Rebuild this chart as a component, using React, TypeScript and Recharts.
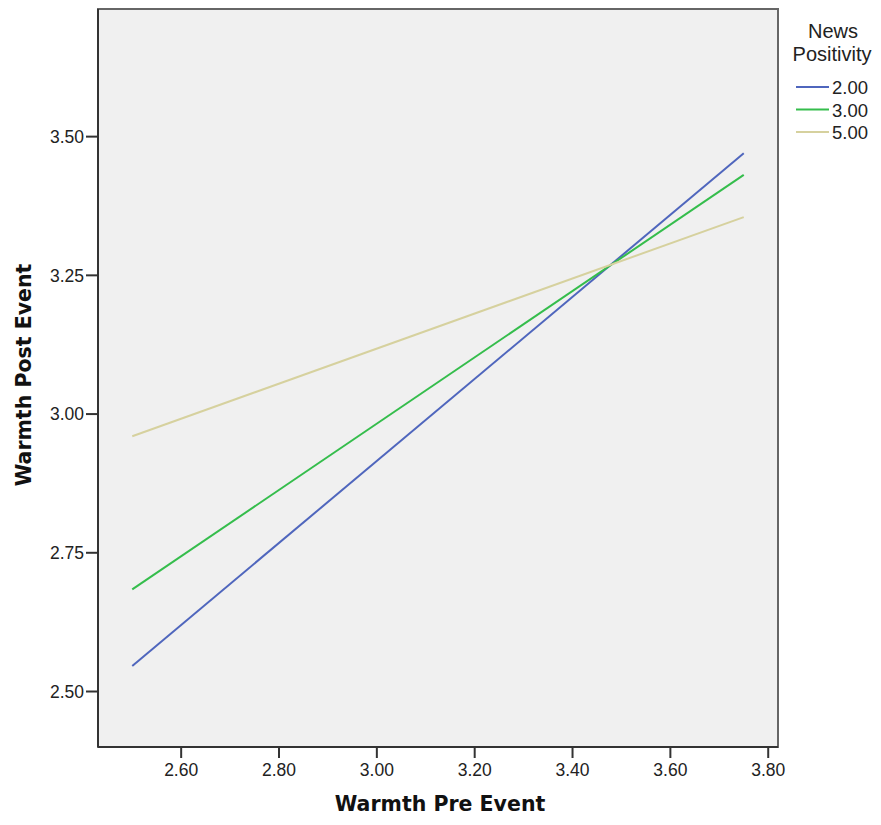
import React from 'react';
import { LineChart, Line, XAxis, YAxis, CartesianGrid, ReferenceArea, Label } from 'recharts';

// ---- data ----
const preEvent = [2.5, 3.75];
const positivity200 = [2.546, 3.47];
const positivity300 = [2.684, 3.431];
const positivity500 = [2.96, 3.355];
const seriesNames = ['2.00', '3.00', '5.00'];
const seriesKeys = ['p200', 'p300', 'p500'];
const seriesColors = ['#4f66bd', '#35bd4c', '#d6d19e'];
const xTicks = [2.6, 2.8, 3.0, 3.2, 3.4, 3.6, 3.8];
const yTicks = [2.5, 2.75, 3.0, 3.25, 3.5];
const xDomain = [2.43, 3.82];
const yDomain = [2.4, 3.73];
const xTitle = 'Warmth Pre Event';
const yTitle = 'Warmth Post Event';
const legendTitle = ['News', 'Positivity'];

const data = preEvent.map((x, i) => ({
  x,
  p200: positivity200[i],
  p300: positivity300[i],
  p500: positivity500[i],
}));

const W = 865;
const H = 809;
const tickFont = { fontFamily: '"Liberation Sans", Arial, sans-serif', fontSize: 17.5, fill: '#222' };
const titleFont = { fontFamily: '"DejaVu Sans", Verdana, sans-serif', fontSize: 20.5, fontWeight: 'bold', fill: '#111' };

const renderXTitle = (props: any) => {
  const vb = props.viewBox || {};
  const cx = vb.x + vb.width / 2 + 2;
  const y = vb.y + vb.height - 6;
  return (
    <text x={cx} y={y} textAnchor="middle" style={titleFont as any}>
      {xTitle}
    </text>
  );
};

const renderYTitle = (props: any) => {
  const vb = props.viewBox || {};
  const cy = vb.y + vb.height / 2 - 3;
  const x = 23;
  return (
    <text x={x} y={cy} textAnchor="middle" transform={`rotate(-90, ${x}, ${cy})`} style={titleFont as any}>
      {yTitle}
    </text>
  );
};

export default function App() {
  return (
    <div style={{ position: 'relative', width: W, height: H }}>
      <LineChart width={W} height={H} data={data} margin={{ top: 1, right: 95, bottom: 0, left: 0 }}>
        <CartesianGrid horizontal={false} vertical={false} fill="#f0f0f0" />
        <ReferenceArea
          x1={xDomain[0]}
          x2={xDomain[1]}
          y1={yDomain[0]}
          y2={yDomain[1]}
          fill="none"
          fillOpacity={0}
          stroke="#666"
          strokeWidth={2}
          ifOverflow="visible"
        />
        <XAxis
          type="number"
          dataKey="x"
          domain={xDomain}
          ticks={xTicks}
          allowDataOverflow
          height={70}
          tickFormatter={(v: number) => v.toFixed(2)}
          tick={tickFont}
          tickSize={11}
          tickMargin={6}
          axisLine={{ stroke: '#333', strokeWidth: 2 }}
          tickLine={{ stroke: '#333', strokeWidth: 2 }}
        >
          <Label content={renderXTitle} />
        </XAxis>
        <YAxis
          type="number"
          domain={yDomain}
          ticks={yTicks}
          allowDataOverflow
          width={90}
          tickFormatter={(v: number) => v.toFixed(2)}
          tick={tickFont}
          tickSize={12}
          tickMargin={2}
          axisLine={{ stroke: '#333', strokeWidth: 2 }}
          tickLine={{ stroke: '#333', strokeWidth: 2 }}
        >
          <Label content={renderYTitle} />
        </YAxis>
        {seriesKeys.map((k, i) => (
          <Line
            key={k}
            type="linear"
            dataKey={k}
            stroke={seriesColors[i]}
            strokeWidth={2}
            dot={false}
            activeDot={false}
            isAnimationActive={false}
          />
        ))}
      </LineChart>
      <svg
        width={W}
        height={160}
        style={{ position: 'absolute', left: 0, top: 0, pointerEvents: 'none' }}
      >
        <g style={{ fontFamily: '"Liberation Sans", Arial, sans-serif', fill: '#222' }}>
          <text x={825} y={30} textAnchor="middle" fontSize={20}>{legendTitle[0]}</text>
          <text x={824} y={53} textAnchor="middle" fontSize={20}>{legendTitle[1]}</text>
          {seriesNames.map((name, i) => (
            <g key={name}>
              <line x1={788} x2={821} y1={79 + i * 22.5} y2={79 + i * 22.5} stroke={seriesColors[i]} strokeWidth={2} />
              <text x={824} y={86 + i * 22.5} fontSize={18.5}>{name}</text>
            </g>
          ))}
        </g>
      </svg>
    </div>
  );
}
